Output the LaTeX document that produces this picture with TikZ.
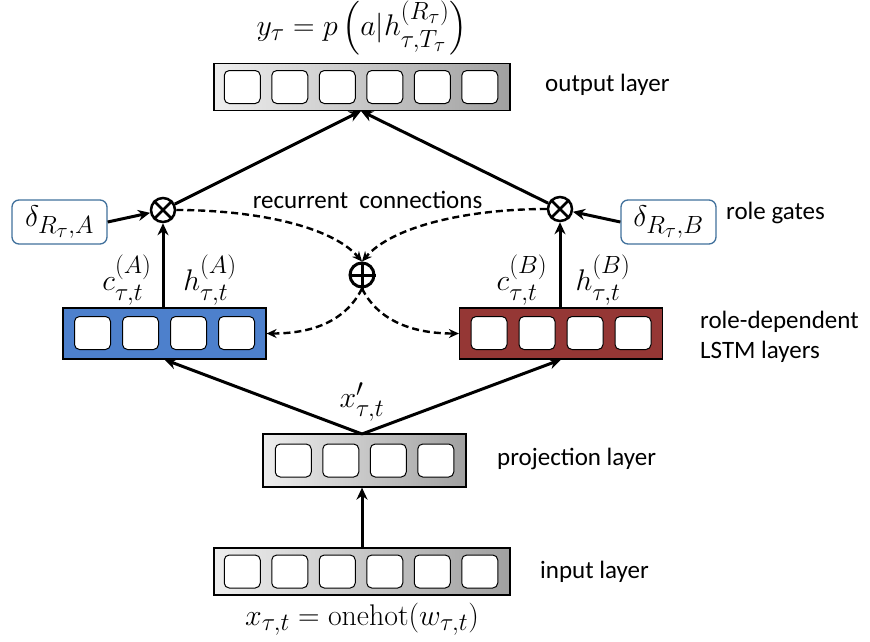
\documentclass[tikz,border=0pt]{standalone}
\usepackage{graphicx}
\usepackage{amsmath}
\usepackage{fontspec}
\newfontfamily\carl{Carlito}
\usetikzlibrary{arrows.meta}
\newcommand{\mymath}[1]{\scalebox{1.2}{\Huge$#1$}}
\definecolor{lblue}{RGB}{77,128,204}
\definecolor{lred}{RGB}{149,55,53}
\definecolor{gborder}{RGB}{65,113,156}
\definecolor{glight}{RGB}{238,238,238}
\definecolor{gdark}{RGB}{160,160,160}
\tikzset{
  graylayer/.style={draw, line width=1.2pt, left color=glight, right color=gdark, inner sep=0pt},
  colorlayer/.style={draw, line width=1.2pt, fill=#1, inner sep=0pt, minimum width=203pt, minimum height=51pt},
  cell/.style={draw, fill=white, rounded corners=5pt, line width=1pt, minimum width=36pt, minimum height=33pt, inner sep=0pt},
  mathlbl/.style={inner sep=0pt},
  txt/.style={font=\carl\fontsize{25}{30}\selectfont, anchor=west, inner sep=0pt},
  arr/.style={line width=3pt, -{Stealth[length=12pt,width=11pt]}},
  darr/.style={line width=2.4pt, dash pattern=on 7pt off 4pt, -{Stealth[length=10pt,width=9pt]}},
  gate/.style={circle, draw, line width=2.5pt, minimum size=24pt, inner sep=0pt, fill=white},
  gatebox/.style={draw=gborder, line width=1.3pt, rounded corners=7pt, fill=white, minimum width=95pt, minimum height=44pt, inner sep=0pt}
}
\begin{document}
\begin{tikzpicture}[x=1pt,y=-1pt]
\useasboundingbox (0,0) rectangle (870,641);
% layers
\node[graylayer, minimum width=296pt, minimum height=47pt] (outL) at (362,87) {};
\foreach \i in {0,...,5} \node[cell] (out\i) at ({361+(\i-2.5)*47.5},87) {};
\node[graylayer, minimum width=296pt, minimum height=47pt] (inL) at (362,571.5) {};
\foreach \i in {0,...,5} \node[cell] (in\i) at ({361+(\i-2.5)*47.5},571.5) {};
\node[graylayer, minimum width=203pt, minimum height=53pt] (projL) at (364.5,460.5) {};
\foreach \i in {0,...,3} \node[cell] (proj\i) at ({364.5+(\i-1.5)*47.5},460.5) {};
\node[colorlayer=lblue] (lstmA) at (164.5,333.5) {};
\foreach \i in {0,...,3} \node[cell] (a\i) at ({164.5+(\i-1.5)*48},333) {};
\node[colorlayer=lred] (lstmB) at (561,333.5) {};
\foreach \i in {0,...,3} \node[cell] (b\i) at ({561+(\i-1.5)*48},333) {};
% gates
\node[gate] (otA) at (163,210) {};
\draw[line width=2.5pt] (otA.45) -- (otA.225) (otA.135) -- (otA.315);
\node[gate] (otB) at (560,209) {};
\draw[line width=2.5pt] (otB.45) -- (otB.225) (otB.135) -- (otB.315);
\node[gate, line width=3pt] (op) at (362,275) {};
\draw[line width=3pt] (op.north) -- (op.south) (op.west) -- (op.east);
\node[gatebox] (dA) at (59.5,222) {\mymath{\delta_{R_\tau,A}}};
\node[gatebox] (dB) at (668.5,222) {\mymath{\delta_{R_\tau,B}}};
% math labels
\node[mathlbl] (ylab) at (362,28) {\mymath{y_\tau = p\left(a|h^{(R_\tau)}_{\tau,T_\tau}\right)}};
\node[mathlbl] (xplab) at (362,402) {\mymath{x'_{\tau,t}}};
\node[mathlbl] (xlab) at (362,619) {\mymath{x_{\tau,t} = \mathrm{onehot}(w_{\tau,t})}};
\node[mathlbl] (cA) at (127,280) {\mymath{c^{(A)}_{\tau,t}}};
\node[mathlbl] (hA) at (210,280) {\mymath{h^{(A)}_{\tau,t}}};
\node[mathlbl] (cB) at (522,280) {\mymath{c^{(B)}_{\tau,t}}};
\node[mathlbl] (hB) at (603,280) {\mymath{h^{(B)}_{\tau,t}}};
% text labels
\node[txt] (t1) at (545,85) {output layer};
\node[txt] (t2) at (726,213) {role gates};
\node[txt] (t3) at (700,322) {role-dependent};
\node[txt] (t4) at (700,352) {LSTM layers};
\node[txt] (t5) at (497,459) {projection layer};
\node[txt] (t6) at (540,572) {input layer};
\node[txt, anchor=center] (t7) at (367.5,200) {recurrent\ \ connections};
% solid arrows
\draw[arr] (inL.north) -- (inL.north |- projL.south);
\coordinate (pt) at (362,434);
\draw[arr] (pt) -- (lstmA.south);
\draw[arr] (pt) -- (lstmB.south);
\draw[arr] (lstmA.north -| otA) -- (otA.south);
\draw[arr] (lstmB.north -| otB) -- (otB.south);
\draw[arr] (dA.east) -- (otA);
\draw[arr] (dB.west) -- (otB);
\coordinate (ob) at (361,111);
\draw[arr] (otA) -- (ob);
\draw[arr] (otB) -- (ob);
% dashed recurrent
\draw[darr] (otA.east) .. controls +(80,0) and +(-30,-35) .. (op.north);
\draw[darr] (otB.west) .. controls +(-80,0) and +(30,-35) .. (op.north);
\draw[darr] (op.south) .. controls +(-15,30) and +(50,0) .. (lstmA.east);
\draw[darr] (op.south) .. controls +(15,30) and +(-50,0) .. (lstmB.west);
\end{tikzpicture}
\end{document}
